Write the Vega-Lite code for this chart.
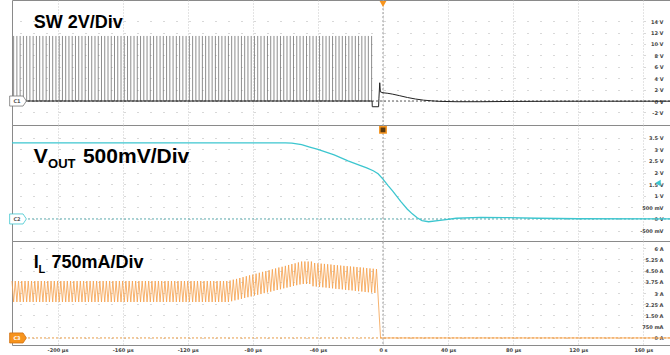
{
"$schema":"https://vega.github.io/schema/vega-lite/v6.json",
"padding":{"left":7,"right":0,"top":-1,"bottom":0},
"spacing":0,
"bounds":"flush",
"background":"white",
"config":{"view":{"stroke":"#8a8a8a","strokeWidth":1},"font":"DejaVu Sans"},
"datasets":{
"trig":[{"t":0,"v":-10},{"t":0,"v":20}],
"base":[{"t":-228,"v":0},{"t":177,"v":0}],
"pulses":[{"t":-227,"v":11.4},{"t":-225,"v":11.4},{"t":-223,"v":11.4},{"t":-221,"v":11.4},{"t":-219,"v":11.4},{"t":-217,"v":11.4},{"t":-215,"v":11.4},{"t":-213,"v":11.4},{"t":-211,"v":11.4},{"t":-209,"v":11.4},{"t":-207,"v":11.4},{"t":-205,"v":11.4},{"t":-203,"v":11.4},{"t":-201,"v":11.4},{"t":-199,"v":11.4},{"t":-197,"v":11.4},{"t":-195,"v":11.4},{"t":-193,"v":11.4},{"t":-191,"v":11.4},{"t":-189,"v":11.4},{"t":-187,"v":11.4},{"t":-185,"v":11.4},{"t":-183,"v":11.4},{"t":-181,"v":11.4},{"t":-179,"v":11.4},{"t":-177,"v":11.4},{"t":-175,"v":11.4},{"t":-173,"v":11.4},{"t":-171,"v":11.4},{"t":-169,"v":11.4},{"t":-167,"v":11.4},{"t":-165,"v":11.4},{"t":-163,"v":11.4},{"t":-161,"v":11.4},{"t":-159,"v":11.4},{"t":-157,"v":11.4},{"t":-155,"v":11.4},{"t":-153,"v":11.4},{"t":-151,"v":11.4},{"t":-149,"v":11.4},{"t":-147,"v":11.4},{"t":-145,"v":11.4},{"t":-143,"v":11.4},{"t":-141,"v":11.4},{"t":-139,"v":11.4},{"t":-137,"v":11.4},{"t":-135,"v":11.4},{"t":-133,"v":11.4},{"t":-131,"v":11.4},{"t":-129,"v":11.4},{"t":-127,"v":11.4},{"t":-125,"v":11.4},{"t":-123,"v":11.4},{"t":-121,"v":11.4},{"t":-119,"v":11.4},{"t":-117,"v":11.4},{"t":-115,"v":11.4},{"t":-113,"v":11.4},{"t":-111,"v":11.4},{"t":-109,"v":11.4},{"t":-107,"v":11.4},{"t":-105,"v":11.4},{"t":-103,"v":11.4},{"t":-101,"v":11.4},{"t":-99,"v":11.4},{"t":-97,"v":11.4},{"t":-95,"v":11.4},{"t":-93,"v":11.4},{"t":-91,"v":11.4},{"t":-89,"v":11.4},{"t":-87,"v":11.4},{"t":-85,"v":11.4},{"t":-83,"v":11.4},{"t":-81,"v":11.4},{"t":-79,"v":11.4},{"t":-77,"v":11.4},{"t":-75,"v":11.4},{"t":-73,"v":11.4},{"t":-71,"v":11.4},{"t":-69,"v":11.4},{"t":-67,"v":11.4},{"t":-65,"v":11.4},{"t":-63,"v":11.4},{"t":-61,"v":11.4},{"t":-59,"v":11.4},{"t":-57,"v":11.4},{"t":-55,"v":11.4},{"t":-53,"v":11.4},{"t":-51,"v":11.4},{"t":-49,"v":11.4},{"t":-47,"v":11.4},{"t":-45,"v":11.4},{"t":-43,"v":11.4},{"t":-41,"v":11.4},{"t":-39,"v":11.4},{"t":-37,"v":11.4},{"t":-35,"v":11.4},{"t":-33,"v":11.4},{"t":-31,"v":11.4},{"t":-29,"v":11.4},{"t":-27,"v":11.4},{"t":-25,"v":11.4},{"t":-23,"v":11.4},{"t":-21,"v":11.4},{"t":-19,"v":11.4},{"t":-17,"v":11.4},{"t":-15,"v":11.4},{"t":-13,"v":11.4},{"t":-11,"v":11.4},{"t":-9,"v":11.4},{"t":-7,"v":11.4}],
"sw":[{"t":-228,"v":0},{"t":-6.7,"v":0},{"t":-6.6,"v":-1.0},{"t":-2.7,"v":-1.0},{"t":-2.5,"v":0.5},{"t":-2.0,"v":3.2},{"t":-1.6,"v":1.6},{"t":0,"v":1.45},{"t":3,"v":1.35},{"t":6,"v":1.2},{"t":10,"v":0.95},{"t":15,"v":0.62},{"t":20,"v":0.35},{"t":25,"v":0.15},{"t":30,"v":0.03},{"t":35,"v":-0.06},{"t":45,"v":-0.12},{"t":60,"v":-0.12},{"t":80,"v":-0.07},{"t":110,"v":-0.04},{"t":177,"v":-0.03}],
"vout":[{"t":-228,"v":3.28},{"t":-60,"v":3.28},{"t":-56,"v":3.27},{"t":-50,"v":3.2},{"t":-45,"v":3.1},{"t":-40,"v":3.0},{"t":-30,"v":2.76},{"t":-21.5,"v":2.5},{"t":-15,"v":2.33},{"t":-10,"v":2.2},{"t":-6,"v":2.08},{"t":-3,"v":1.95},{"t":0,"v":1.72},{"t":3,"v":1.45},{"t":6,"v":1.2},{"t":11,"v":0.75},{"t":15,"v":0.42},{"t":18,"v":0.22},{"t":21,"v":0.05},{"t":24,"v":-0.07},{"t":28,"v":-0.12},{"t":35,"v":-0.06},{"t":45,"v":0.03},{"t":60,"v":0.07},{"t":75,"v":0.06},{"t":95,"v":0.03},{"t":120,"v":0.01},{"t":177,"v":0.0}],
"il":[{"t":-228,"v":3.8},{"t":-227,"v":2.4},{"t":-226,"v":3.8},{"t":-225,"v":2.4},{"t":-224,"v":3.8},{"t":-223,"v":2.4},{"t":-222,"v":3.8},{"t":-221,"v":2.4},{"t":-220,"v":3.8},{"t":-219,"v":2.4},{"t":-218,"v":3.8},{"t":-217,"v":2.4},{"t":-216,"v":3.8},{"t":-215,"v":2.4},{"t":-214,"v":3.8},{"t":-213,"v":2.4},{"t":-212,"v":3.8},{"t":-211,"v":2.4},{"t":-210,"v":3.8},{"t":-209,"v":2.4},{"t":-208,"v":3.8},{"t":-207,"v":2.4},{"t":-206,"v":3.8},{"t":-205,"v":2.4},{"t":-204,"v":3.8},{"t":-203,"v":2.4},{"t":-202,"v":3.8},{"t":-201,"v":2.4},{"t":-200,"v":3.8},{"t":-199,"v":2.4},{"t":-198,"v":3.8},{"t":-197,"v":2.4},{"t":-196,"v":3.8},{"t":-195,"v":2.4},{"t":-194,"v":3.8},{"t":-193,"v":2.4},{"t":-192,"v":3.8},{"t":-191,"v":2.4},{"t":-190,"v":3.8},{"t":-189,"v":2.4},{"t":-188,"v":3.8},{"t":-187,"v":2.4},{"t":-186,"v":3.8},{"t":-185,"v":2.4},{"t":-184,"v":3.8},{"t":-183,"v":2.4},{"t":-182,"v":3.8},{"t":-181,"v":2.4},{"t":-180,"v":3.8},{"t":-179,"v":2.4},{"t":-178,"v":3.8},{"t":-177,"v":2.4},{"t":-176,"v":3.8},{"t":-175,"v":2.4},{"t":-174,"v":3.8},{"t":-173,"v":2.4},{"t":-172,"v":3.8},{"t":-171,"v":2.4},{"t":-170,"v":3.8},{"t":-169,"v":2.4},{"t":-168,"v":3.8},{"t":-167,"v":2.4},{"t":-166,"v":3.8},{"t":-165,"v":2.4},{"t":-164,"v":3.8},{"t":-163,"v":2.4},{"t":-162,"v":3.8},{"t":-161,"v":2.4},{"t":-160,"v":3.8},{"t":-159,"v":2.4},{"t":-158,"v":3.8},{"t":-157,"v":2.4},{"t":-156,"v":3.8},{"t":-155,"v":2.4},{"t":-154,"v":3.8},{"t":-153,"v":2.4},{"t":-152,"v":3.8},{"t":-151,"v":2.4},{"t":-150,"v":3.8},{"t":-149,"v":2.4},{"t":-148,"v":3.8},{"t":-147,"v":2.4},{"t":-146,"v":3.8},{"t":-145,"v":2.4},{"t":-144,"v":3.8},{"t":-143,"v":2.4},{"t":-142,"v":3.8},{"t":-141,"v":2.4},{"t":-140,"v":3.8},{"t":-139,"v":2.4},{"t":-138,"v":3.8},{"t":-137,"v":2.4},{"t":-136,"v":3.8},{"t":-135,"v":2.4},{"t":-134,"v":3.8},{"t":-133,"v":2.4},{"t":-132,"v":3.8},{"t":-131,"v":2.4},{"t":-130,"v":3.8},{"t":-129,"v":2.4},{"t":-128,"v":3.8},{"t":-127,"v":2.4},{"t":-126,"v":3.8},{"t":-125,"v":2.4},{"t":-124,"v":3.8},{"t":-123,"v":2.4},{"t":-122,"v":3.8},{"t":-121,"v":2.4},{"t":-120,"v":3.8},{"t":-119,"v":2.4},{"t":-118,"v":3.8},{"t":-117,"v":2.4},{"t":-116,"v":3.8},{"t":-115,"v":2.4},{"t":-114,"v":3.8},{"t":-113,"v":2.4},{"t":-112,"v":3.8},{"t":-111,"v":2.4},{"t":-110,"v":3.8},{"t":-109,"v":2.4},{"t":-108,"v":3.8},{"t":-107,"v":2.4},{"t":-106,"v":3.8},{"t":-105,"v":2.4},{"t":-104,"v":3.8},{"t":-103,"v":2.4},{"t":-102,"v":3.8},{"t":-101,"v":2.4},{"t":-100,"v":3.8},{"t":-99,"v":2.4},{"t":-98,"v":3.8},{"t":-97,"v":2.4},{"t":-96,"v":3.8},{"t":-95,"v":2.4},{"t":-94,"v":3.83},{"t":-93,"v":2.45},{"t":-92,"v":3.89},{"t":-91,"v":2.51},{"t":-90,"v":3.94},{"t":-89,"v":2.56},{"t":-88,"v":4.0},{"t":-87,"v":2.61},{"t":-86,"v":4.06},{"t":-85,"v":2.67},{"t":-84,"v":4.12},{"t":-83,"v":2.72},{"t":-82,"v":4.18},{"t":-81,"v":2.77},{"t":-80,"v":4.23},{"t":-79,"v":2.83},{"t":-78,"v":4.29},{"t":-77,"v":2.88},{"t":-76,"v":4.35},{"t":-75,"v":2.93},{"t":-74,"v":4.41},{"t":-73,"v":2.99},{"t":-72,"v":4.46},{"t":-71,"v":3.04},{"t":-70,"v":4.52},{"t":-69,"v":3.09},{"t":-68,"v":4.58},{"t":-67,"v":3.15},{"t":-66,"v":4.64},{"t":-65,"v":3.2},{"t":-64,"v":4.7},{"t":-63,"v":3.25},{"t":-62,"v":4.75},{"t":-61,"v":3.31},{"t":-60,"v":4.81},{"t":-59,"v":3.36},{"t":-58,"v":4.87},{"t":-57,"v":3.41},{"t":-56,"v":4.93},{"t":-55,"v":3.47},{"t":-54,"v":4.98},{"t":-53,"v":3.52},{"t":-52,"v":5.04},{"t":-51,"v":3.57},{"t":-50,"v":5.1},{"t":-49,"v":3.6},{"t":-48,"v":5.1},{"t":-47,"v":3.6},{"t":-46,"v":5.1},{"t":-45,"v":3.6},{"t":-44,"v":5.1},{"t":-43,"v":3.45},{"t":-42,"v":5.0},{"t":-41,"v":3.43},{"t":-40,"v":4.98},{"t":-39,"v":3.4},{"t":-38,"v":4.96},{"t":-37,"v":3.38},{"t":-36,"v":4.94},{"t":-35,"v":3.36},{"t":-34,"v":4.92},{"t":-33,"v":3.33},{"t":-32,"v":4.9},{"t":-31,"v":3.31},{"t":-30,"v":4.87},{"t":-29,"v":3.28},{"t":-28,"v":4.85},{"t":-27,"v":3.26},{"t":-26,"v":4.83},{"t":-25,"v":3.24},{"t":-24,"v":4.81},{"t":-23,"v":3.21},{"t":-22,"v":4.79},{"t":-21,"v":3.19},{"t":-20,"v":4.77},{"t":-19,"v":3.17},{"t":-18,"v":4.75},{"t":-17,"v":3.14},{"t":-16,"v":4.73},{"t":-15,"v":3.12},{"t":-14,"v":4.71},{"t":-13,"v":3.1},{"t":-12,"v":4.69},{"t":-11,"v":3.07},{"t":-10,"v":4.66},{"t":-9,"v":3.05},{"t":-8,"v":4.64},{"t":-7,"v":3.03},{"t":-6,"v":4.62},{"t":-5,"v":3.0},{"t":-4,"v":4.6},{"t":-1.5,"v":0},{"t":177,"v":0}],
"t1":[{"t":-214.7,"v":12.8,"label":"SW 2V/Div"}],
"t2a":[{"t":-214.7,"v":2.41,"label":"V"},{"t":-184.4,"v":2.41,"label":"500mV/Div"}],
"t2b":[{"t":-205.8,"v":2.2,"label":"OUT"}],
"t3a":[{"t":-214.7,"v":4.67,"label":"I"},{"t":-203.7,"v":4.67,"label":"750mA/Div"}],
"t3b":[{"t":-211.7,"v":4.33,"label":"L"}],
"c1":[{"t":-224.3,"v":0,"label":"C1"}],
"c2":[{"t":-224.3,"v":0,"label":"C2"}],
"c3":[{"t":-224.3,"v":0,"label":"C3"}],
"trg1":[{"t":0,"v":17.0}],
"trg2":[{"t":0,"v":3.84}],
"off2":[{"t":169,"v":1.55}]
},
"vconcat":[
{
"width":659,"height":125,
"encoding":{
"x":{"field":"t","type":"quantitative","scale":{"domain":[-228,177],"nice":false,"zero":false},"axis":{"values":[-200,-160,-120,-80,-40,0,40,80,120,160],"labels":false,"ticks":false,"domain":false,"grid":true,"gridColor":"#c8c8c8","gridDash":[1,2],"title":null}},
"y":{"field":"v","type":"quantitative","scale":{"domain":[-4.2,17.7],"nice":false,"zero":false},"axis":{"orient":"right","values":[-2,0,2,4,6,8,10,12,14],"labelExpr":"datum.value + ' V'","labelAlign":"right","labelBaseline":"middle","labelPadding":-8,"labelFontSize":5,"labelColor":"#444","labelFontWeight":"bold","ticks":false,"domain":false,"grid":true,"gridColor":"#b0b0b0","gridDash":[1,12],"title":null}}
},
"layer":[
{"data":{"name":"trig"},"mark":{"type":"line","color":"#999","strokeWidth":1,"strokeDash":[2,2],"clip":true}},
{"data":{"name":"base"},"mark":{"type":"line","color":"#555","strokeWidth":1,"strokeDash":[2,2]}},
{"data":{"name":"pulses"},"mark":{"type":"rule","color":"#707070","strokeWidth":1,"opacity":0.8},"encoding":{"y2":{"datum":0}}},
{"data":{"name":"sw"},"mark":{"type":"line","color":"#222","strokeWidth":1}},
{"data":{"name":"t1"},"mark":{"type":"text","align":"left","baseline":"alphabetic","font":"Liberation Sans","fontWeight":"bold","fontSize":18,"color":"#000"},"encoding":{"text":{"field":"label"}}},
{"data":{"name":"c1"},"mark":{"type":"point","shape":"M-1,-0.6H0.6L1,0L0.6,0.6H-1Z","size":280,"filled":true,"fill":"#fff","stroke":"#777","strokeWidth":0.8,"opacity":1}},
{"data":{"name":"c1"},"mark":{"type":"text","fontSize":5,"fontWeight":"bold","color":"#555","dx":-1},"encoding":{"text":{"field":"label"}}},
{"data":{"name":"trg1"},"mark":{"type":"point","shape":"triangle-down","size":45,"filled":true,"color":"#f7941d","opacity":1}}
]
},
{
"width":659,"height":116,
"encoding":{
"x":{"field":"t","type":"quantitative","scale":{"domain":[-228,177],"nice":false,"zero":false},"axis":{"values":[-200,-160,-120,-80,-40,0,40,80,120,160],"labels":false,"ticks":false,"domain":false,"grid":true,"gridColor":"#c8c8c8","gridDash":[1,2],"title":null}},
"y":{"field":"v","type":"quantitative","scale":{"domain":[-0.95,4.05],"nice":false,"zero":false},"axis":{"orient":"right","values":[-0.5,0,0.5,1,1.5,2,2.5,3,3.5],"labelExpr":"datum.value == 0.5 ? '500 mV' : datum.value == -0.5 ? '-500 mV' : datum.value + ' V'","labelAlign":"right","labelBaseline":"middle","labelPadding":-8,"labelFontSize":5,"labelColor":"#444","labelFontWeight":"bold","ticks":false,"domain":false,"grid":true,"gridColor":"#b0b0b0","gridDash":[1,12],"title":null}}
},
"layer":[
{"data":{"name":"trig"},"mark":{"type":"line","color":"#999","strokeWidth":1,"strokeDash":[2,2],"clip":true}},
{"data":{"name":"base"},"mark":{"type":"line","color":"#5aa9ad","strokeWidth":1,"strokeDash":[2,2]}},
{"data":{"name":"vout"},"mark":{"type":"line","color":"#3cc6cf","strokeWidth":1.3}},
{"data":{"name":"t2a"},"mark":{"type":"text","align":"left","baseline":"alphabetic","font":"Liberation Sans","fontWeight":"bold","fontSize":21,"color":"#000"},"encoding":{"text":{"field":"label"}}},
{"data":{"name":"t2b"},"mark":{"type":"text","align":"left","baseline":"alphabetic","font":"Liberation Sans","fontWeight":"bold","fontSize":13,"color":"#000"},"encoding":{"text":{"field":"label"}}},
{"data":{"name":"c2"},"mark":{"type":"point","shape":"M-1,-0.6H0.6L1,0L0.6,0.6H-1Z","size":280,"filled":true,"fill":"#fff","stroke":"#3cc6cf","strokeWidth":0.8,"opacity":1}},
{"data":{"name":"c2"},"mark":{"type":"text","fontSize":5,"fontWeight":"bold","color":"#555","dx":-1},"encoding":{"text":{"field":"label"}}},
{"data":{"name":"trg2"},"mark":{"type":"point","shape":"square","size":40,"filled":true,"fill":"#5a3a10","stroke":"#f7941d","strokeWidth":1.5,"opacity":1}},
{"data":{"name":"off2"},"mark":{"type":"point","shape":"triangle-left","size":40,"filled":true,"color":"#3cc6cf","opacity":1}}
]
},
{
"width":659,"height":104,
"encoding":{
"x":{"field":"t","type":"quantitative","scale":{"domain":[-228,177],"nice":false,"zero":false},"axis":{"values":[-200,-160,-120,-80,-40,0,40,80,120,160],"labelExpr":"datum.value == 0 ? '0 s' : datum.value + ' µs'","labelFontSize":5,"labelColor":"#444","labelFontWeight":"bold","labelPadding":2,"ticks":false,"domain":false,"grid":true,"gridColor":"#c8c8c8","gridDash":[1,2],"title":null}},
"y":{"field":"v","type":"quantitative","scale":{"domain":[-0.47,6.47],"nice":false,"zero":false},"axis":{"orient":"right","values":[0,0.75,1.5,2.25,3,3.75,4.5,5.25,6],"labelExpr":"datum.value == 0.75 ? '750 mA' : datum.value == 4.5 ? '4.50 A' : datum.value == 1.5 ? '1.50 A' : datum.value + ' A'","labelAlign":"right","labelBaseline":"middle","labelPadding":-8,"labelFontSize":5,"labelColor":"#444","labelFontWeight":"bold","ticks":false,"domain":false,"grid":true,"gridColor":"#b0b0b0","gridDash":[1,12],"title":null}}
},
"layer":[
{"data":{"name":"trig"},"mark":{"type":"line","color":"#999","strokeWidth":1,"strokeDash":[2,2],"clip":true}},
{"data":{"name":"base"},"mark":{"type":"line","color":"#e69a45","strokeWidth":1,"strokeDash":[2,2]}},
{"data":{"name":"il"},"mark":{"type":"line","color":"#f5a04a","strokeWidth":0.8}},
{"data":{"name":"t3a"},"mark":{"type":"text","align":"left","baseline":"alphabetic","font":"Liberation Sans","fontWeight":"bold","fontSize":18,"color":"#000"},"encoding":{"text":{"field":"label"}}},
{"data":{"name":"t3b"},"mark":{"type":"text","align":"left","baseline":"alphabetic","font":"Liberation Sans","fontWeight":"bold","fontSize":11,"color":"#000"},"encoding":{"text":{"field":"label"}}},
{"data":{"name":"c3"},"mark":{"type":"point","shape":"M-1,-0.6H0.6L1,0L0.6,0.6H-1Z","size":280,"filled":true,"fill":"#f7941d","stroke":"#d07010","strokeWidth":0.8,"opacity":1}},
{"data":{"name":"c3"},"mark":{"type":"text","fontSize":5,"fontWeight":"bold","color":"#fff","dx":-1},"encoding":{"text":{"field":"label"}}}
]
}
]
}
